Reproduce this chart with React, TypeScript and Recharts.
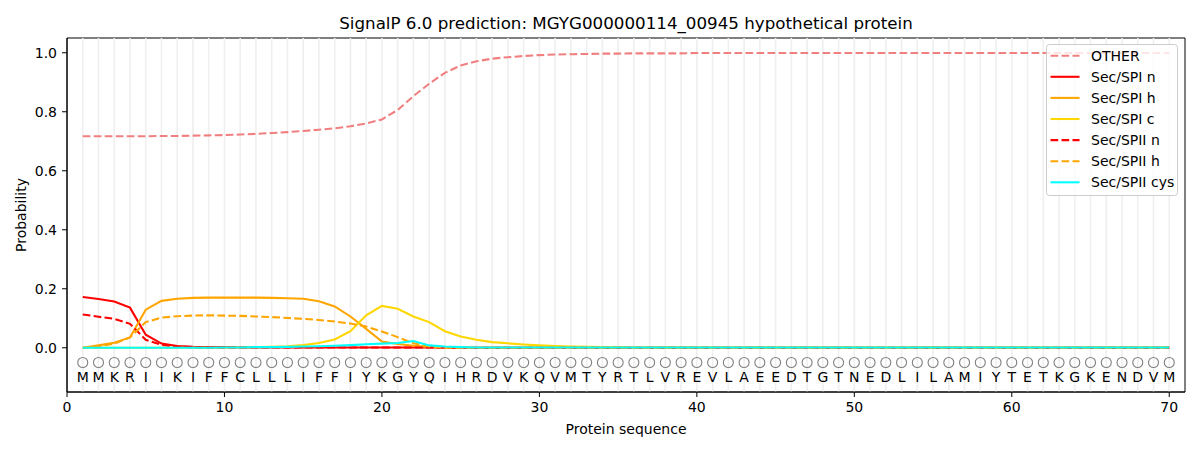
import React from 'react';
import { LineChart, Line, XAxis, YAxis, ReferenceLine, ReferenceArea } from 'recharts';

const residues = ['M','M','K','R','I','I','K','I','F','F','C','L','L','L','I','F','F','I','Y','K','G','Y','Q','I','H','R','D','V','K','Q','V','M','T','Y','R','T','L','V','R','E','V','L','A','E','E','D','T','G','T','N','E','D','L','I','L','A','M','I','Y','T','E','T','K','G','K','E','N','D','V','M'];

const otherProb = [0.717,0.717,0.717,0.717,0.717,0.718,0.718,0.719,0.720,0.721,
  0.723,0.725,0.728,0.731,0.735,0.739,0.744,0.751,0.760,0.774,
  0.806,0.853,0.895,0.932,0.957,0.971,0.980,0.985,0.989,0.992,
  0.994,0.995,0.996,0.997,0.997,0.998,0.998,0.998,0.998,0.999,
  0.999,0.999,0.999,0.999,0.999,0.999,0.999,0.999,0.999,0.999,
  0.999,0.999,0.999,0.999,0.999,0.999,0.999,0.999,0.999,0.999,
  0.999,0.999,0.999,0.999,0.999,0.999,0.999,0.999,0.999,0.999];

const spiN = [0.172,0.165,0.157,0.136,0.044,0.014,0.006,0.003,0.002,0.002,
  0.001,0.001,0.001,0.001,0.001,0.001,0.001,0.001,0.001,0.001,
  0.001,0.001,0.001,0.001,0,0,0,0,0,0,
  0,0,0,0,0,0,0,0,0,0,0,0,0,0,0,0,0,0,0,0,
  0,0,0,0,0,0,0,0,0,0,0,0,0,0,0,0,0,0,0,0];

const spiH = [0.0,0.008,0.017,0.035,0.129,0.159,0.166,0.169,0.170,0.170,
  0.170,0.170,0.169,0.168,0.166,0.158,0.140,0.106,0.064,0.021,
  0.013,0.007,0.003,0.001,0,0,0,0,0,0,
  0,0,0,0,0,0,0,0,0,0,0,0,0,0,0,0,0,0,0,0,
  0,0,0,0,0,0,0,0,0,0,0,0,0,0,0,0,0,0,0,0];

const spiC = [0,0,0,0,0,0,0,0,0,0,
  0.001,0.002,0.003,0.005,0.009,0.016,0.028,0.056,0.110,0.142,
  0.132,0.106,0.087,0.056,0.038,0.027,0.019,0.015,0.011,0.008,
  0.006,0.004,0.003,0.002,0.002,0.001,0.001,0.001,0.001,0.001,
  0.001,0.001,0.001,0.001,0.001,0.001,0.001,0.001,0.001,0.001,
  0.001,0.001,0.001,0.001,0.001,0.001,0.001,0.001,0.001,0.001,
  0.001,0.001,0.001,0.001,0.001,0.001,0.001,0.001,0.001,0.001];

const spiiN = [0.113,0.105,0.098,0.081,0.027,0.010,0.004,0.002,0.001,0.001,
  0.001,0.001,0.001,0.001,0.001,0.001,0.001,0.001,0.001,0.001,
  0.001,0.001,0.001,0.001,0,0,0,0,0,0,
  0,0,0,0,0,0,0,0,0,0,0,0,0,0,0,0,0,0,0,0,
  0,0,0,0,0,0,0,0,0,0,0,0,0,0,0,0,0,0,0,0];

const spiiH = [0.0,0.005,0.014,0.035,0.087,0.102,0.107,0.109,0.110,0.109,
  0.108,0.106,0.104,0.101,0.098,0.094,0.089,0.082,0.072,0.055,
  0.036,0.015,0.004,0.001,0,0,0,0,0,0,
  0,0,0,0,0,0,0,0,0,0,0,0,0,0,0,0,0,0,0,0,
  0,0,0,0,0,0,0,0,0,0,0,0,0,0,0,0,0,0,0,0];

const spiiCys = [0,0,0,0,0,0,0,0,0,0.001,
  0.001,0.002,0.002,0.003,0.004,0.005,0.007,0.009,0.012,0.014,
  0.016,0.023,0.008,0.004,0.002,0.001,0.001,0.001,0.001,0.001,
  0.001,0.001,0.001,0.001,0.001,0.001,0.001,0.001,0.001,0.001,
  0.001,0.001,0.001,0.001,0.001,0.001,0.001,0.001,0.001,0.001,
  0.001,0.001,0.001,0.001,0.001,0.001,0.001,0.001,0.001,0.001,
  0.001,0.001,0.001,0.001,0.001,0.001,0.001,0.001,0.001,0.001];

const xTicks = [0, 10, 20, 30, 40, 50, 60, 70];
const yTicks = [0, 0.2, 0.4, 0.6, 0.8, 1.0];
const X_DOMAIN = [0, 71];
const Y_DOMAIN = [-0.15, 1.05];

const MARKER_Y = -0.05;
const LETTER_Y = -0.1;

const data = residues.map((r, i) => ({
  pos: i + 1,
  residue: r,
  other: otherProb[i],
  spiN: spiN[i],
  spiH: spiH[i],
  spiC: spiC[i],
  spiiN: spiiN[i],
  spiiH: spiiH[i],
  spiiCys: spiiCys[i],
  marker: MARKER_Y,
  letter: LETTER_Y,
}));

const series = [
  { key: 'other', name: 'OTHER', color: '#f08080', dashed: true },
  { key: 'spiN', name: 'Sec/SPI n', color: '#ff0000', dashed: false },
  { key: 'spiH', name: 'Sec/SPI h', color: '#ffa500', dashed: false },
  { key: 'spiC', name: 'Sec/SPI c', color: '#ffd700', dashed: false },
  { key: 'spiiN', name: 'Sec/SPII n', color: '#ff0000', dashed: true },
  { key: 'spiiH', name: 'Sec/SPII h', color: '#ffa500', dashed: true },
  { key: 'spiiCys', name: 'Sec/SPII cys', color: '#00ffff', dashed: false },
];

const FONT = '"DejaVu Sans", sans-serif';
const LW = 2.08;
const DASH = '7.7 3.3';

const LetterDot = (props: any) => {
  const { cx, cy, payload, index } = props;
  if (cx == null || cy == null) return <g key={`l-${index}`} />;
  return (
    <text key={`l-${index}`} x={cx} y={cy} textAnchor="middle" dominantBaseline="central"
      fontSize={14} fontFamily={FONT} fill="#000">{payload.residue}</text>
  );
};

const LegendBox = () => (
  <svg width={134} height={154} style={{ position: 'absolute', left: 1046, top: 44 }}>
    <rect x={0.5} y={0.5} width={131} height={151} rx={3} ry={3} fill="rgba(255,255,255,0.8)" stroke="#cccccc" strokeWidth={1} />
    {series.map((s, i) => {
      const cy = 11.7 + i * 21.1;
      return (
        <g key={s.key}>
          <line x1={4.5} x2={33.5} y1={cy} y2={cy} stroke={s.color} strokeWidth={LW}
            strokeDasharray={s.dashed ? DASH : undefined} />
          <text x={45} y={cy} dominantBaseline="central" fontSize={14} fontFamily={FONT} fill="#000">{s.name}</text>
        </g>
      );
    })}
  </svg>
);

export default function App() {
  return (
    <div style={{ position: 'absolute', left: 0, top: 0, width: 1200, height: 450, background: '#fff', fontFamily: FONT }}>
      <div style={{ position: 'absolute', left: 67, top: 13, width: 1118, textAlign: 'center', fontSize: 16.7, lineHeight: '20px', color: '#000' }}>
        SignalP 6.0 prediction: MGYG000000114_00945 hypothetical protein
      </div>
      <LineChart width={1200} height={450} data={data} margin={{ top: 38, right: 15, left: 0, bottom: 0 }}
        style={{ position: 'absolute', left: 0, top: 0, fontFamily: FONT }}>
        <XAxis dataKey="pos" type="number" domain={X_DOMAIN} ticks={xTicks} allowDataOverflow
          height={58} tickSize={5} tickMargin={5} interval={0}
          axisLine={{ stroke: '#000', strokeWidth: 1 }} tickLine={{ stroke: '#000' }}
          tick={{ fill: '#000', fontSize: 14, fontFamily: FONT }}
          label={{ value: 'Protein sequence', position: 'insideBottom', offset: 16, fill: '#000', fontSize: 14, fontFamily: FONT }} />
        <YAxis type="number" domain={Y_DOMAIN} ticks={yTicks} allowDataOverflow width={67}
          tickSize={5} tickMargin={5} interval={0}
          tickFormatter={(v: number) => v.toFixed(1)}
          axisLine={{ stroke: '#000', strokeWidth: 1 }} tickLine={{ stroke: '#000' }}
          tick={{ fill: '#000', fontSize: 14, fontFamily: FONT }}
          label={{ value: 'Probability', angle: -90, position: 'insideLeft', offset: 21, fill: '#000', fontSize: 14, fontFamily: FONT, style: { textAnchor: 'middle' } }} />
        {data.map((d) => (
          <ReferenceLine key={`g-${d.pos}`} x={d.pos} stroke="#efefef" strokeWidth={1.6} />
        ))}
        <Line dataKey="marker" stroke="none" isAnimationActive={false} legendType="none"
          dot={{ r: 5, stroke: '#808080', strokeWidth: 1.1, fill: 'none' }} activeDot={false} />
        <Line dataKey="letter" stroke="none" isAnimationActive={false} legendType="none"
          dot={LetterDot} activeDot={false} />
        {series.map((s) => (
          <Line key={s.key} dataKey={s.key} name={s.name} type="linear" stroke={s.color} strokeWidth={LW}
            strokeDasharray={s.dashed ? DASH : undefined} dot={false} activeDot={false} isAnimationActive={false} />
        ))}
        <ReferenceArea x1={X_DOMAIN[0]} x2={X_DOMAIN[1]} y1={Y_DOMAIN[0]} y2={Y_DOMAIN[1]}
          fill="none" fillOpacity={0} stroke="#000" strokeWidth={1} strokeOpacity={1} />
      </LineChart>
      <LegendBox />
    </div>
  );
}
